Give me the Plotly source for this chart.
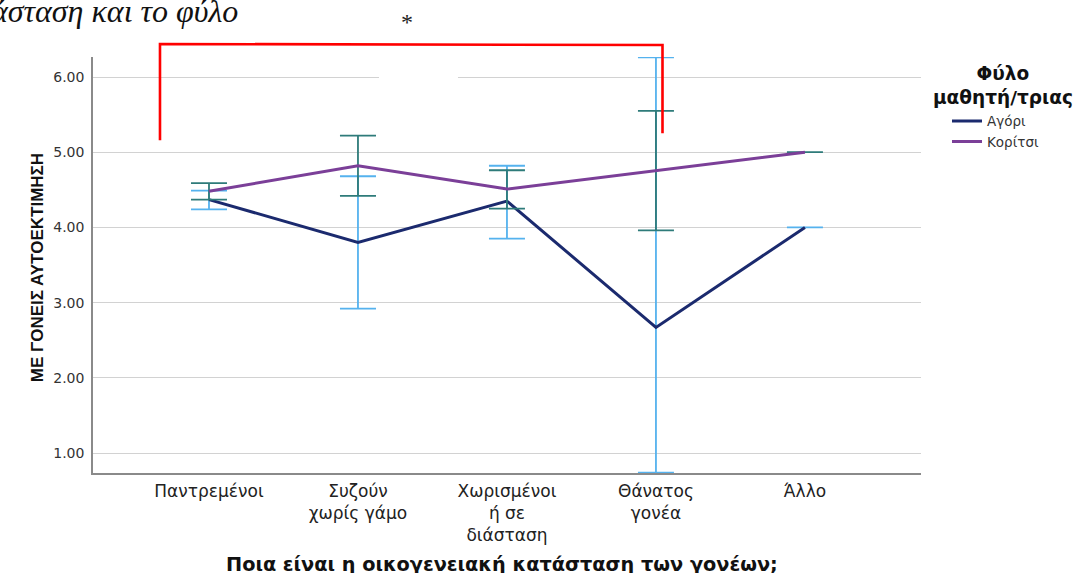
import plotly.graph_objects as go

categories = ["Παντρεμένοι", "Συζούν<br>χωρίς γάμο", "Χωρισμένοι<br>ή σε<br>διάσταση",
              "Θάνατος<br>γονέα", "Άλλο"]
boys_mean = [4.37, 3.80, 4.35, 2.67, 4.00]
boys_upper = [4.49, 4.68, 4.82, 6.26, None]
boys_lower = [4.24, 2.92, 3.85, 0.74, None]
girls_mean = [4.48, 4.82, 4.51, 4.75, 5.00]
girls_upper = [4.59, 5.22, 4.76, 5.55, 5.00]
girls_lower = [4.37, 4.42, 4.25, 3.96, 5.00]
y_ticks = [1, 2, 3, 4, 5, 6]


def plus(mean, up):
    return [None if u is None else u - m for m, u in zip(mean, up)]


def minus(mean, lo):
    return [None if l is None else m - l for m, l in zip(mean, lo)]


NAVY = "#1b2a6e"
PURPLE = "#7b3f98"
LBLUE = "#55b2ee"
TEAL = "#2e7b7a"
WIDE = "DejaVu Sans, Verdana, sans-serif"
ARIAL = "Liberation Sans, Arial, sans-serif"
SERIF = "Liberation Serif, Times New Roman, serif"

fig = go.Figure()
fig.add_trace(go.Scatter(
    x=categories, y=boys_mean, mode="lines", name="Αγόρι",
    line=dict(color=NAVY, width=3),
    error_y=dict(type="data", symmetric=False,
                 array=plus(boys_mean, boys_upper),
                 arrayminus=minus(boys_mean, boys_lower),
                 color=LBLUE, thickness=1.8, width=18),
))
fig.add_trace(go.Scatter(
    x=categories, y=girls_mean, mode="lines", name="Κορίτσι",
    line=dict(color=PURPLE, width=3),
    error_y=dict(type="data", symmetric=False,
                 array=plus(girls_mean, girls_upper),
                 arrayminus=minus(girls_mean, girls_lower),
                 color=TEAL, thickness=1.8, width=18),
))

fig.update_layout(
    width=1079, height=573,
    margin=dict(l=93, r=158, t=57, b=100),
    paper_bgcolor="white", plot_bgcolor="white",
    font=dict(family=WIDE, color="#222222"),
    showlegend=True,
    legend=dict(
        x=1.0314, y=0.883, xanchor="left", yanchor="top",
        font=dict(size=13.5, color="#333333", family=WIDE),
        itemwidth=30, tracegroupgap=0,
    ),
    xaxis=dict(
        type="category", range=[-0.7785, 4.779],
        showgrid=False, zeroline=False,
        showline=True, linecolor="#8a8a8a", linewidth=1.5,
        ticks="", ticklabelstandoff=2,
        tickfont=dict(size=17, color="#222222", family=WIDE),
    ),
    yaxis=dict(
        range=[0.734, 6.266], tickvals=y_ticks, tickformat=".2f",
        showgrid=True, gridcolor="#d2d2d2", gridwidth=1.2,
        zeroline=False, showline=True, linecolor="#8a8a8a", linewidth=1.5,
        ticks="", ticklabelstandoff=4,
        tickfont=dict(size=14, color="#333333", family=WIDE),
    ),
)

# legend title (centred lines)
fig.add_annotation(
    text="<b>Φύλο<br>μαθητή/τριας</b>",
    xref="paper", yref="paper", x=1.0990, y=0.9315,
    xanchor="center", yanchor="middle", align="center", showarrow=False,
    font=dict(size=18.5, color="#111111", family=WIDE),
)

# axis titles
fig.add_annotation(
    text="<b>Ποια είναι η οικογενειακή κατάσταση των γονέων;</b>",
    xref="paper", yref="paper", x=0.494, y=-0.219,
    xanchor="center", yanchor="middle", showarrow=False,
    font=dict(size=19.3, color="#111111", family=WIDE),
)
fig.add_annotation(
    text="<b>ΜΕ ΓΟΝΕΙΣ ΑΥΤΟΕΚΤΙΜΗΣΗ</b>",
    xref="paper", yref="paper", x=-0.066, y=0.493,
    xanchor="center", yanchor="middle", showarrow=False, textangle=-90,
    font=dict(size=17, color="#111111", family=ARIAL),
)

# document overlay: cropped caption, asterisk, significance bracket
fig.add_annotation(
    text="<i>άσταση και το φύλο</i>",
    xref="paper", yref="paper", x=0.1775, y=1.110,
    xanchor="right", yanchor="middle", showarrow=False,
    font=dict(size=32, color="#111111", family=SERIF),
)
fig.add_annotation(
    text="*", xref="paper", yref="paper", x=0.379, y=1.084,
    xanchor="center", yanchor="middle", showarrow=False,
    font=dict(size=24, color="#222222", family=SERIF),
)
fig.add_shape(
    type="path", xref="paper", yref="paper",
    path="M 0.0809 0.800 L 0.0809 1.0313 L 0.6878 1.0288 L 0.6878 0.817",
    line=dict(color="#ff0000", width=2.6),
)
# white patch over part of the top gridline
fig.add_shape(
    type="rect", xref="paper", yref="paper",
    x0=0.3454, x1=0.4408, y0=0.944, y1=0.960,
    fillcolor="white", line=dict(width=0), layer="above",
)

fig.write_html("out.html", config={"displayModeBar": False},
               post_script="document.body.style.margin='0';")
